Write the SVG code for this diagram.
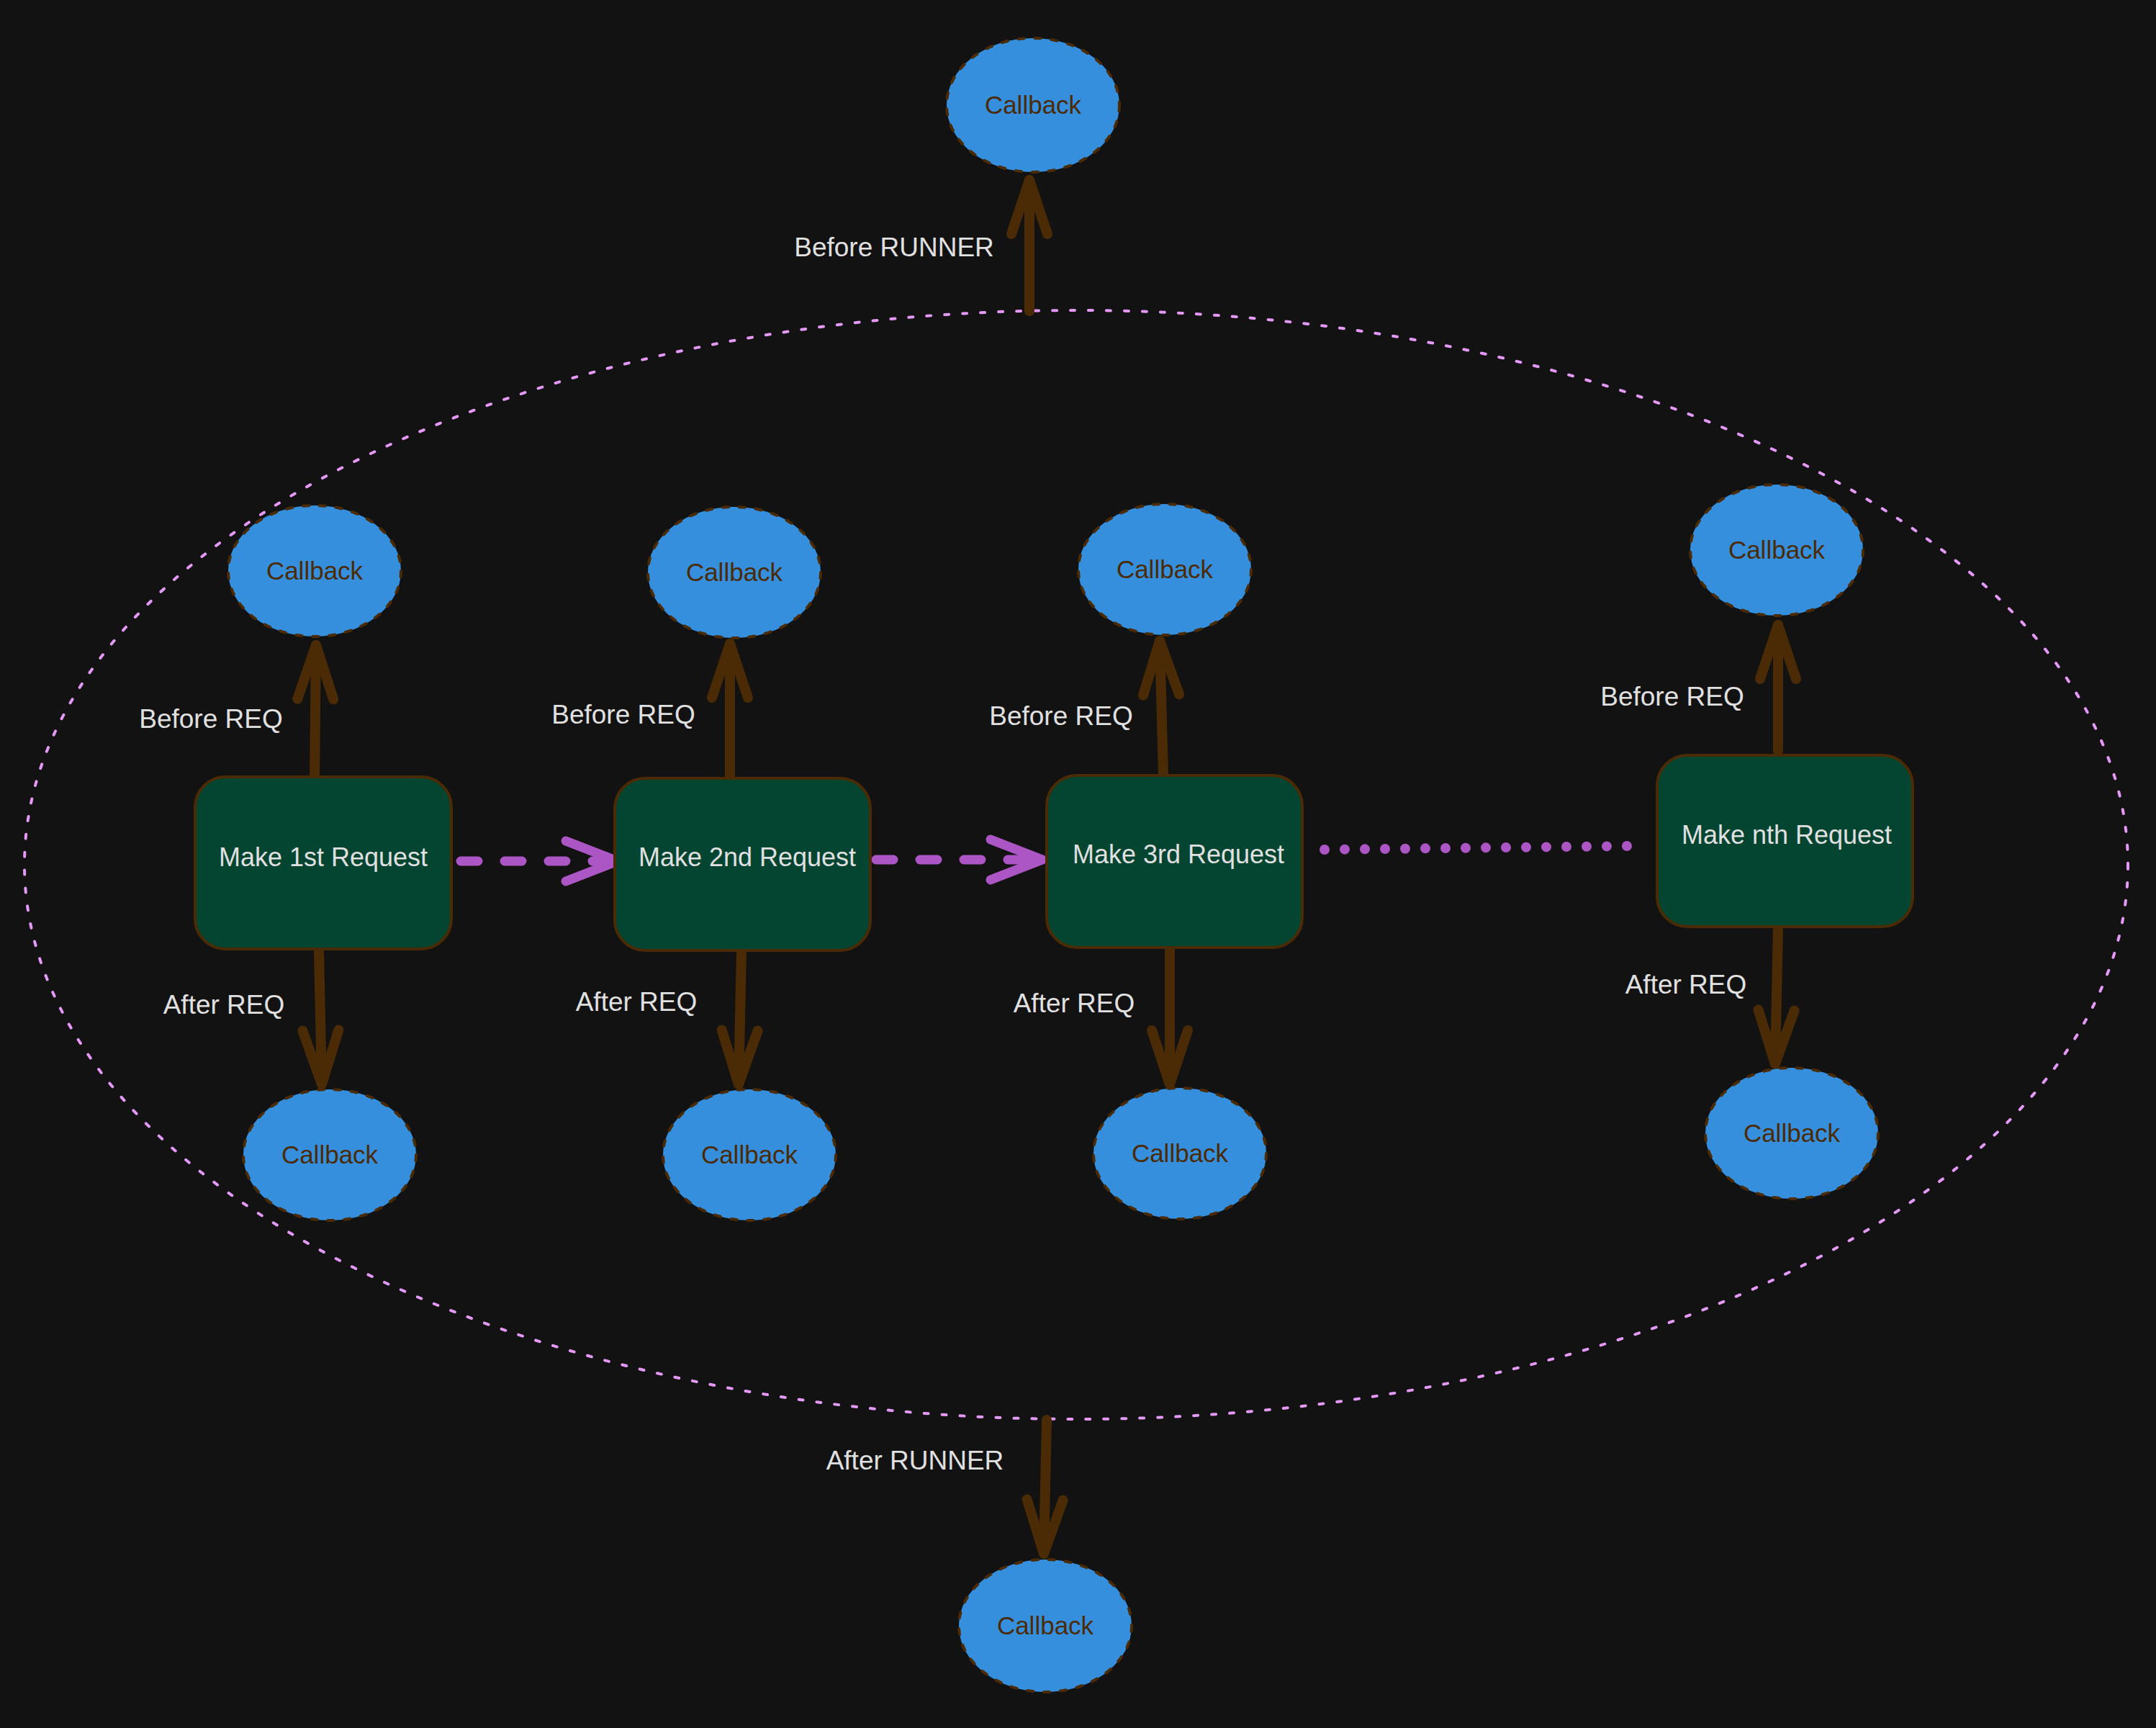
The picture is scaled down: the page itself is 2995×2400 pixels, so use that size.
<svg xmlns="http://www.w3.org/2000/svg" width="2995" height="2400" viewBox="0 0 2995 2400">
<style>
.cb ellipse{fill:#368fdc;stroke:#4a2b06;stroke-width:4;stroke-dasharray:8 15;stroke-linecap:round}
.cb text{fill:#4a2b06;font-family:"Liberation Sans",Arial,sans-serif;font-size:35px;text-anchor:middle}
.rq rect{fill:#034530;stroke:#4a2b06;stroke-width:4}
.rq text{fill:#e0e0e0;font-family:"Liberation Sans",Arial,sans-serif;font-size:36px;text-anchor:middle}
.lbl{fill:#e0e0e0;font-family:"Liberation Sans",Arial,sans-serif;font-size:37px;text-anchor:middle}
.br{fill:none;stroke:#4a2b06;stroke-width:14;stroke-linecap:round;stroke-linejoin:round;marker-end:url(#brh)}
.pd{fill:none;stroke:#ac55c4;stroke-width:13;stroke-linecap:round;stroke-dasharray:24 37;marker-end:url(#pah)}
.pdot{fill:none;stroke:#ac55c4;stroke-width:14;stroke-linecap:round;stroke-dasharray:0 28}
</style>
<defs>
<marker id="brh" markerUnits="userSpaceOnUse" viewBox="-100 -50 120 100" markerWidth="120" markerHeight="100" refX="0" refY="0" orient="auto" overflow="visible">
<path d="M -75 -25 L 0 0 L -75 25" fill="none" stroke="#4a2b06" stroke-width="14" stroke-linecap="round" stroke-linejoin="round"/>
</marker>
<marker id="pah" markerUnits="userSpaceOnUse" viewBox="-100 -50 120 100" markerWidth="120" markerHeight="100" refX="0" refY="0" orient="auto" overflow="visible">
<path d="M -72 -28 L 0 0 L -72 28" fill="none" stroke="#ac55c4" stroke-width="13" stroke-linecap="round" stroke-linejoin="round"/>
</marker>
</defs>
<rect width="2995" height="2400" fill="#121212"/>
<g id="runner-boundary">
<ellipse cx="1495" cy="1201" rx="1461" ry="770" fill="none" stroke="#e599f7" stroke-width="4" stroke-dasharray="6 19" stroke-linecap="round"/>
</g>
<g id="connectors">
<path class="br" d="M 1430 432 L 1430 250"/>
<path class="br" d="M 437 1085 L 439 896"/>
<path class="br" d="M 1014 1080 L 1014 894"/>
<path class="br" d="M 1616 1075 L 1611 890"/>
<path class="br" d="M 2470 1043 L 2470 868"/>
<path class="br" d="M 443 1322 L 447 1506"/>
<path class="br" d="M 1030 1322 L 1026 1506"/>
<path class="br" d="M 1625 1316 L 1625 1506"/>
<path class="br" d="M 2470 1288 L 2466 1478"/>
<path class="br" d="M 1454 1972 L 1450 2158"/>
<path class="pd" d="M 640 1196 L 858 1196"/>
<path class="pd" d="M 1217 1194 L 1448 1194"/>
<path class="pdot" d="M 1840 1180 L 2265 1175"/>
<text class="lbl" x="1242" y="356">Before RUNNER</text>
<text class="lbl" x="293" y="1011">Before REQ</text>
<text class="lbl" x="866" y="1005">Before REQ</text>
<text class="lbl" x="1474" y="1007">Before REQ</text>
<text class="lbl" x="2323" y="980">Before REQ</text>
<text class="lbl" x="311" y="1408">After REQ</text>
<text class="lbl" x="884" y="1404">After REQ</text>
<text class="lbl" x="1492" y="1406">After REQ</text>
<text class="lbl" x="2342" y="1380">After REQ</text>
<text class="lbl" x="1271" y="2041">After RUNNER</text>
</g>
<g id="cb-runner-before" class="cb"><ellipse cx="1435" cy="146" rx="120" ry="93"/><text x="1435" y="158">Callback</text></g>
<g id="cb-before-1" class="cb"><ellipse cx="437" cy="793" rx="120" ry="91"/><text x="437" y="805">Callback</text></g>
<g id="cb-before-2" class="cb"><ellipse cx="1020" cy="795" rx="120" ry="91"/><text x="1020" y="807">Callback</text></g>
<g id="cb-before-3" class="cb"><ellipse cx="1618" cy="791" rx="120" ry="91"/><text x="1618" y="803">Callback</text></g>
<g id="cb-before-n" class="cb"><ellipse cx="2468" cy="764" rx="120" ry="91"/><text x="2468" y="776">Callback</text></g>
<g id="cb-after-1" class="cb"><ellipse cx="458" cy="1604" rx="120" ry="91"/><text x="458" y="1616">Callback</text></g>
<g id="cb-after-2" class="cb"><ellipse cx="1041" cy="1604" rx="120" ry="91"/><text x="1041" y="1616">Callback</text></g>
<g id="cb-after-3" class="cb"><ellipse cx="1639" cy="1602" rx="120" ry="91"/><text x="1639" y="1614">Callback</text></g>
<g id="cb-after-n" class="cb"><ellipse cx="2489" cy="1574" rx="120" ry="91"/><text x="2489" y="1586">Callback</text></g>
<g id="cb-runner-after" class="cb"><ellipse cx="1452" cy="2258" rx="120" ry="92"/><text x="1452" y="2270">Callback</text></g>
<g id="req-1" class="rq"><rect x="271" y="1079" width="356" height="239" rx="42"/><text x="449" y="1203">Make 1st Request</text></g>
<g id="req-2" class="rq"><rect x="854" y="1081" width="355" height="239" rx="42"/><text x="1038" y="1203">Make 2nd Request</text></g>
<g id="req-3" class="rq"><rect x="1454" y="1077" width="355" height="239" rx="42"/><text x="1637" y="1199">Make 3rd Request</text></g>
<g id="req-n" class="rq"><rect x="2302" y="1049" width="355" height="238" rx="42"/><text x="2482" y="1172">Make nth Request</text></g>
</svg>
